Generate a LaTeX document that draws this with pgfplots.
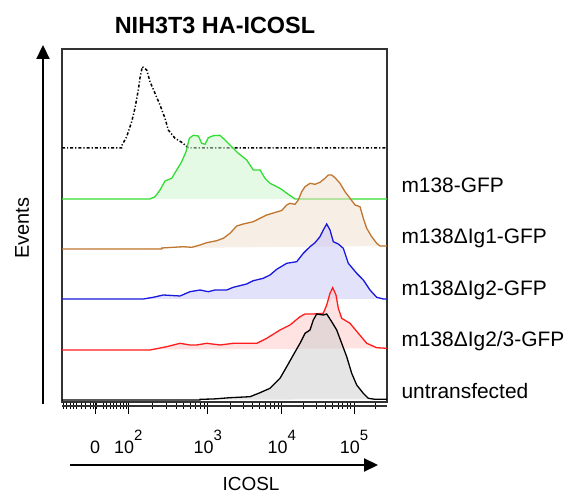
\documentclass[border=0pt]{standalone}
\usepackage{pgfplots}
\pgfplotsset{compat=1.18}
\usepackage{fontspec}
\setmainfont{Liberation Sans}
\usetikzlibrary{arrows.meta}
\definecolor{cgreen}{RGB}{51,221,51}
\definecolor{cbrown}{RGB}{192,118,48}
\definecolor{cblue}{RGB}{24,24,222}
\definecolor{cred}{RGB}{255,28,28}
\newcommand{\tp}[1]{10\raisebox{12.5bp}{\fontsize{15}{15}\selectfont #1}}
\begin{document}
\begin{tikzpicture}
\path[use as bounding box] (-62bp,-93bp) rectangle (506bp,402bp);
\begin{axis}[
  at={(0,0)}, anchor=south west,
  scale only axis, width=325bp, height=353bp,
  xmin=0, xmax=325, ymin=0, ymax=353,
  axis line style={line width=1.2bp, black!80},
  ytick=\empty,
  xtick pos=bottom,
  xtick={33,66.3,145.7,219.7,292},
  xticklabels={0,{\tp{2}},{\tp{3}},{\tp{4}},{\tp{5}}},
  minor xtick={1.3,4.7,8,11.3,14.7,19.7,23,28,31.3,34.7,41.3,44.7,48,51.3,54.7,58,61.3,64.7,
    90.2,104.2,114.1,121.8,128.1,133.4,138.0,142.1,
    168.0,181.0,190.2,197.4,203.3,208.2,212.5,216.3,
    241.5,254.2,263.2,270.2,276.0,280.8,285.0,288.7,313.8},
  tick align=outside,
  major tick length=12bp, minor tick length=7bp,
  tick style={black, line width=1bp},
  xticklabel style={font=\fontsize{18}{18}\selectfont, anchor=base, yshift=-39bp},
  /pgf/number format/assume math mode=true,
]
% dotted (control)
\addplot[black, line width=1.5bp, dash pattern=on 3bp off 2bp on 1.2bp off 2bp] coordinates {
(0,254) (59.7,254) (59.7,256.3) (64.7,265.3) (69.7,280.3) (73,294) (76.3,312) (78,324) (80.3,335.3)
(84.7,332) (88,320.3) (93,308.7) (98,297) (103,283.7) (106.3,272) (113,263.7) (119.7,259.7)
(126.3,254.3) (128,254) (325,254)};
% m138-GFP
\addplot[cgreen, line width=1.3bp, fill=cgreen!25!white, fill opacity=0.5] coordinates {
(0,203) (88,203) (93,205.3) (98,212) (103,221) (109.7,223.7) (114.7,232) (119.7,240.3) (124,250.3)
(127.3,263.7) (131.3,266.7) (136.3,266) (139.7,258.7) (143,257.7) (146.3,264.3) (151.3,266.3)
(158,266.7) (163,262) (169.7,255.3) (176.3,248.7) (184.7,242) (191.3,232) (198,232) (203,223.7)
(208,218.7) (218,213.7) (226.3,207.7) (233,203) (325,203)};
% m138 dIg1
\addplot[cbrown, line width=1.3bp, fill=cbrown!25!white, fill opacity=0.5] coordinates {
(0,153) (99.7,153) (99.7,154) (121.3,155.3) (129.7,154.7) (138,157) (144.7,159.3) (154.7,161.3)
(161.3,163.7) (168,168.7) (174.7,176) (181.3,178) (191.3,180.3) (198,183.7) (204.7,187) (211.3,189)
(219.7,191.5) (224.7,197) (228,198.7) (233,197.7) (236.3,202) (239.7,210.3) (243,215.3) (248,218.7)
(253,217.7) (258,219.7) (263,223.7) (266.3,227) (269.7,227) (273,224.3) (278,218.7) (283,210.3)
(288,203.7) (293,197) (298,195.3) (301.3,183.7) (304.7,173.7) (309.7,165.3) (314.7,158.7)
(318,156) (325,156)};
% m138 dIg2
\addplot[cblue, line width=1.3bp, fill=cblue!25!white, fill opacity=0.5] coordinates {
(0,103) (81.3,103) (91.3,104.7) (101.3,107) (118,106) (128,110.3) (138,112) (146.3,110.3) (153,112)
(164.7,112) (171.3,114.7) (184.7,118) (191.3,121.3) (201.3,123.7) (208,127) (214.7,132.7)
(224.7,138.7) (234.7,140.3) (241.3,148.7) (248,155.3) (253,159.3) (258,165.3) (261.3,172)
(264.7,178) (268,172) (271.3,160.3) (276.3,158) (281.3,153.7) (286.3,138.7) (294.7,128.7)
(301.3,122) (308,112) (314.7,104.7) (321.3,103) (325,103)};
% m138 dIg2/3
\addplot[cred, line width=1.3bp, fill=cred!25!white, fill opacity=0.5] coordinates {
(0,52) (88,52) (104.7,55.3) (118,58.7) (128,57) (134.7,57) (144.7,58.7) (158,57) (171.3,58.7)
(184.7,58.7) (194.7,58.7) (204.7,63.7) (218,72) (228,77) (238,85.3) (243,88) (251.3,88) (261.3,88.7)
(264.7,97) (268,108.7) (270.7,114.3) (274,107) (276.3,93.7) (279.7,83.7) (288,78.7) (296.3,68.7)
(304.7,58.7) (314.7,54.3) (325,53.7)};
% untransfected
\addplot[black, line width=1.3bp, fill=black!20!white, fill opacity=0.5] coordinates {
(0,2) (138,2) (138,2.7) (151.3,3) (168,4.3) (188,5.3) (198,9.3) (208,13.7) (218,23.7) (224.7,35.3)
(231.3,47) (238,58.7) (243,68.7) (248,72) (251.3,82) (254.7,88) (261.3,87) (264.7,88) (269.7,80.3)
(274.7,72) (279.7,58.7) (284.7,45.3) (289.7,28.7) (294.7,17) (301.3,8.7) (306.3,3.7) (313,2.7)
(325,2.7)};
\end{axis}
\draw[line width=1.2bp, black!80] (0,-4bp) -- (325bp,-4bp);
\draw[line width=2.2bp, -{Triangle[width=13bp,length=14bp]}] (-19bp,-2bp) -- (-19bp,357bp);
\draw[line width=2.2bp, -{Triangle[width=13bp,length=14bp]}] (8bp,-63bp) -- (316bp,-63bp);
\node[font=\bfseries\fontsize{23.5}{23.5}\selectfont, anchor=base] at (153bp,368bp) {NIH3T3 HA-ICOSL};
\node[font=\fontsize{20}{20}\selectfont, rotate=90] at (-40bp,174bp) {Events};
\node[font=\fontsize{19}{19}\selectfont, anchor=base, inner sep=0pt] at (189bp,-88bp) {ICOSL};
\begin{scope}[every node/.style={font=\fontsize{21}{21}\selectfont, anchor=base west}]
\node at (336bp,209bp) {m138-GFP};
\node at (336bp,158bp) {m138ΔIg1-GFP};
\node at (336bp,106bp) {m138ΔIg2-GFP};
\node at (336bp,55bp) {m138ΔIg2/3-GFP};
\node at (336bp,4bp) {untransfected};
\end{scope}
\end{tikzpicture}
\end{document}
